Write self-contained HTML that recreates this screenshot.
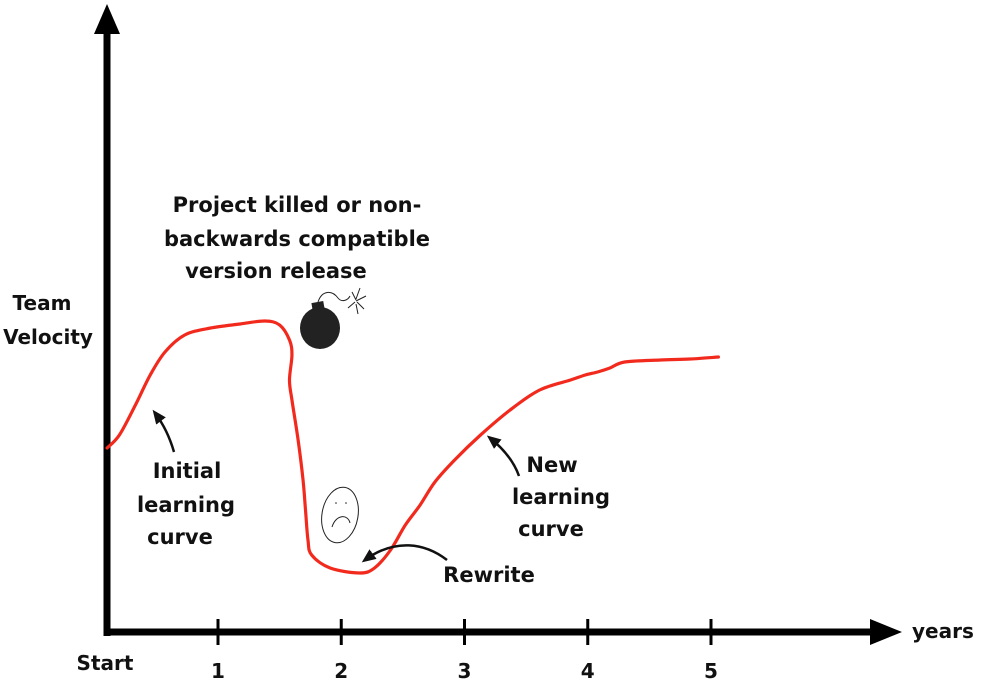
<!DOCTYPE html>
<html><head><meta charset="utf-8"><style>
body{margin:0;background:#fff}
svg{display:block}
text{font-family:"Comic Sans MS","DejaVu Sans","Liberation Sans",sans-serif;font-weight:bold;fill:#111}
</style></head><body>
<svg id="chart" width="990" height="699" viewBox="0 0 990 699">
<defs><marker id="ah" markerUnits="userSpaceOnUse" markerWidth="14" markerHeight="14" refX="10" refY="7" orient="auto"><path d="M0,1 L14,7 L0,13 z" fill="#111"/></marker></defs>
<g id="axes">
<line x1="107" y1="636" x2="107" y2="30" stroke="#000" stroke-width="7"/>
<polygon points="107,4 94,34 120,34" fill="#000"/>
<line x1="104" y1="632" x2="875" y2="632" stroke="#000" stroke-width="7"/>
<polygon points="902,632 870,619 870,645" fill="#000"/>
<text x="912" y="638" font-size="20">years</text>
<text x="42" y="310" font-size="20" text-anchor="middle">Team</text>
<text x="48" y="344" font-size="20" text-anchor="middle">Velocity</text>
<text x="105" y="670" font-size="20" text-anchor="middle">Start</text>
</g>
<g id="ticks"></g>
<path id="curve" fill="none" stroke="#f22a1e" stroke-width="3.2" stroke-linecap="round"/>
<g>
<ellipse cx="320" cy="328" rx="20" ry="21" fill="#222"/>
<rect x="312" y="302" width="12" height="8" fill="#222" transform="rotate(-10 318 306)"/>
<path d="M318,302 C322,290 332,290 338,298 C342,303 348,300 350,296" fill="none" stroke="#222" stroke-width="1"/>
<path d="M352,292 L356,300 M360,288 L356,299 M366,296 L356,301 M364,309 L357,302 M348,308 L355,302 M358,314 L356,304" stroke="#222" stroke-width="1"/>
</g>
<g>
<ellipse cx="340" cy="515" rx="18" ry="28" fill="none" stroke="#222" stroke-width="1" transform="rotate(10 340 515)"/>
<circle cx="336" cy="503" r="0.8" fill="#222"/><circle cx="346" cy="503" r="0.8" fill="#222"/>
<path d="M332,527 C336,514 348,514 350,523" fill="none" stroke="#222" stroke-width="1"/>
</g>
<g>
<text text-anchor="middle" font-size="21"><tspan x="297" y="212">Project killed or non-</tspan><tspan x="297" y="246">backwards compatible</tspan><tspan x="276" y="278">version release</tspan></text>
<text text-anchor="middle" font-size="21"><tspan x="187" y="478">Initial</tspan><tspan x="186" y="512">learning</tspan><tspan x="180" y="544">curve</tspan></text>
<text text-anchor="middle" font-size="21"><tspan x="552" y="472">New</tspan><tspan x="561" y="504">learning</tspan><tspan x="551" y="536">curve</tspan></text>
<text x="489" y="582" text-anchor="middle" font-size="21">Rewrite</text>
<path d="M174,452 C170,438 164,425 155,413" fill="none" stroke="#111" stroke-width="2.5" marker-end="url(#ah)"/>
<path d="M519,476 C514,462 505,450 490,438" fill="none" stroke="#111" stroke-width="2.5" marker-end="url(#ah)"/>
<path d="M447,560 C425,543 395,538 365,560" fill="none" stroke="#111" stroke-width="2.5" marker-end="url(#ah)"/>
</g>
</svg>
<script>
const tickLabels = ["1","2","3","4","5"];
const tickYears = [1,2,3,4,5];
const years = [0.10,0.20,0.33,0.45,0.57,0.73,0.94,1.18,1.38,1.50,1.58,1.60,1.58,1.60,1.65,1.69,1.71,1.73,1.76,1.91,2.15,2.27,2.40,2.52,2.64,2.76,2.92,3.13,3.37,3.61,3.86,3.98,4.08,4.18,4.30,4.59,4.83,5.06];
const velocity = [36.8,39.4,45.4,51.4,56,59.4,60.8,61.6,62.2,61.4,58.4,55.4,50.4,46.4,38.4,30.4,24.4,18.4,15.4,12.8,11.8,12.8,16.4,21.4,25.4,30,34.4,39.4,44.4,48.4,50.4,51.4,52,52.8,54,54.4,54.6,55];
const xS = t => 94.75 + t*123.25;
const yS = v => 632 - v*5;
const ns = "http://www.w3.org/2000/svg";
const tg = document.getElementById('ticks');
tickYears.forEach((t,i)=>{
  const l = document.createElementNS(ns,'line');
  l.setAttribute('x1',xS(t));l.setAttribute('x2',xS(t));l.setAttribute('y1',619);l.setAttribute('y2',645);
  l.setAttribute('stroke','#000');l.setAttribute('stroke-width','3');
  
  
  tg.appendChild(l);
  const tx = document.createElementNS(ns,'text');
  tx.setAttribute('x',xS(t));tx.setAttribute('y',678);tx.setAttribute('text-anchor','middle');tx.setAttribute('font-size','20');
  tx.textContent = tickLabels[i];
  
  
  tg.appendChild(tx);
});
const pts = years.map((t,i)=>[xS(t),yS(velocity[i])]);
let d = `M${pts[0][0]},${pts[0][1]}`;
for(let i=0;i<pts.length-1;i++){
  const p0=pts[Math.max(0,i-1)],p1=pts[i],p2=pts[i+1],p3=pts[Math.min(pts.length-1,i+2)];
  const c1=[p1[0]+(p2[0]-p0[0])/6,p1[1]+(p2[1]-p0[1])/6];
  const c2=[p2[0]-(p3[0]-p1[0])/6,p2[1]-(p3[1]-p1[1])/6];
  d+=` C${c1[0]},${c1[1]} ${c2[0]},${c2[1]} ${p2[0]},${p2[1]}`;
}
document.getElementById('curve').setAttribute('d',d);
</script>
</body></html>
